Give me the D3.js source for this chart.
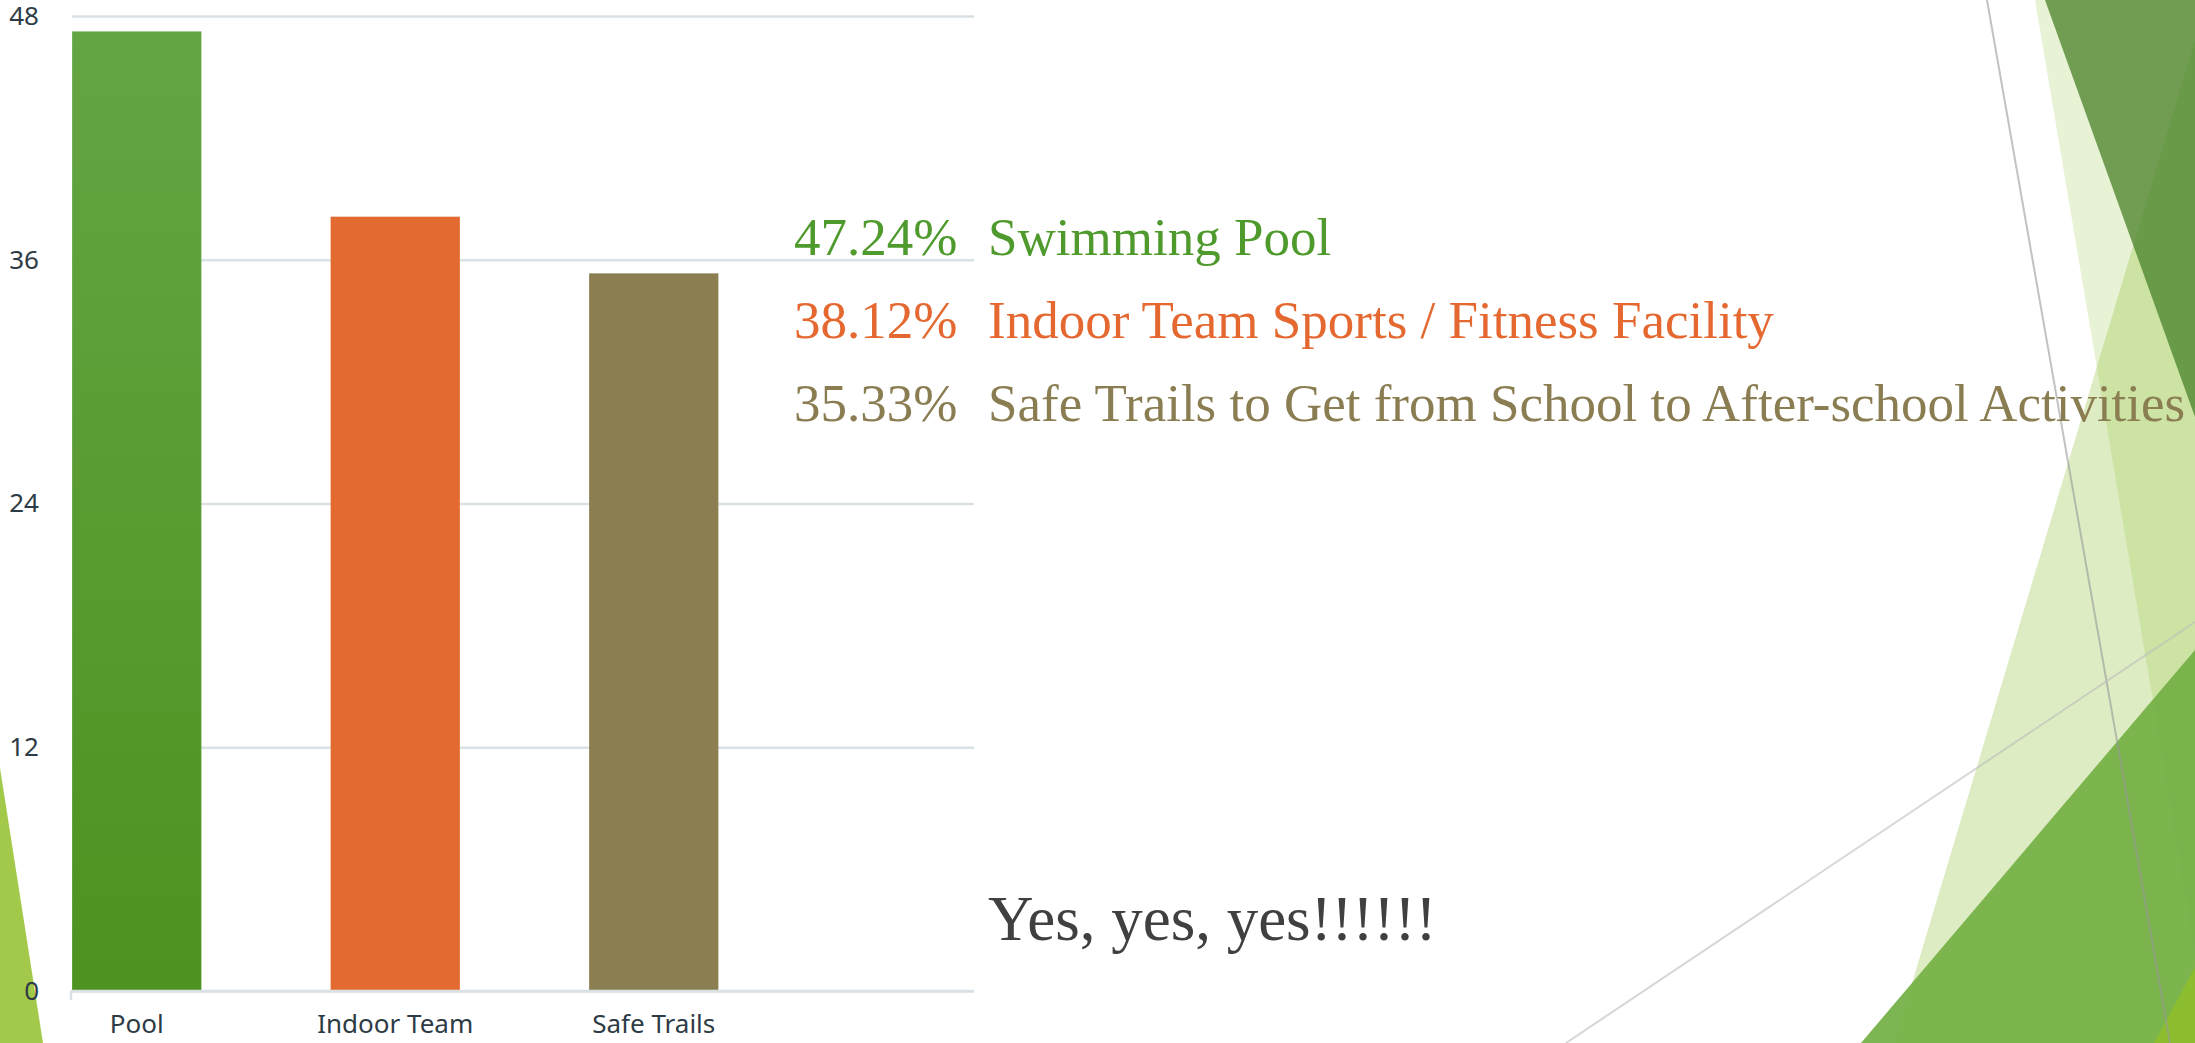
<!DOCTYPE html>
<html>
<head>
<meta charset="utf-8">
<script src="https://cdn.jsdelivr.net/npm/d3@7"></script>
<style>
  html, body { margin: 0; padding: 0; background: #ffffff; overflow: hidden; }
  svg { display: block; }
  .tick text { font-family: "Noto Sans", sans-serif; font-size: 26px; fill: #2d3b45; }
</style>
</head>
<body>
<div id="chart"></div>
<script>
// chart data
var categories = ["Pool", "Indoor Team", "Safe Trails"];
var values = [47.24, 38.12, 35.33];
var fullNames = ["Swimming Pool", "Indoor Team Sports / Fitness Facility", "Safe Trails to Get from School to After-school Activities"];
var barColors = ["url(#poolGrad)", "#e36b32", "#8b7f51"];
var textColors = ["#4f9a2c", "#e4682f", "#8a7d52"];
var yTicks = [0, 12, 24, 36, 48];
var closingLine = "Yes, yes, yes!!!!!!";

var width = 2195, height = 1043;
var plotLeft = 72, plotRight = 974, plotTop = 16, plotBottom = 991;

var svg = d3.select("#chart").append("svg")
    .attr("width", width)
    .attr("height", height);

var defs = svg.append("defs");
var grad = defs.append("linearGradient")
    .attr("id", "poolGrad")
    .attr("x1", 0).attr("y1", 0).attr("x2", 0).attr("y2", 1);
grad.append("stop").attr("offset", "0%").attr("stop-color", "#64a543");
grad.append("stop").attr("offset", "100%").attr("stop-color", "#4e9220");

// slide background decoration (theme facets)
var deco = svg.append("g").attr("class", "deco");
var line = d3.line();
deco.append("path").attr("d", line([[0, 768], [43, 1043], [0, 1043]]) + "Z").attr("fill", "#a2c94a");
deco.append("path").attr("d", line([[2035, 0], [2195, 0], [2195, 950]]) + "Z")
    .attr("fill", "#8bbd2e").attr("fill-opacity", 0.2);
deco.append("path").attr("d", line([[1894, 1043], [2195, 40], [2195, 1043]]) + "Z")
    .attr("fill", "#8bbd2e").attr("fill-opacity", 0.29);
deco.append("path").attr("d", line([[2045, 0], [2195, 0], [2195, 417]]) + "Z")
    .attr("fill", "#4c832b").attr("fill-opacity", 0.77);
deco.append("path").attr("d", line([[1861, 1043], [2195, 650], [2195, 1043]]) + "Z")
    .attr("fill", "#73af44").attr("fill-opacity", 0.92);
deco.append("path").attr("d", line([[2154, 1043], [2195, 967], [2195, 1043]]) + "Z")
    .attr("fill", "#8bbd2e");
deco.append("path").attr("d", line([[1987, 0], [2170, 1043]]))
    .attr("stroke", "#9a9a9a").attr("stroke-opacity", 0.6).attr("stroke-width", 2).attr("fill", "none");
deco.append("path").attr("d", line([[1566, 1043], [2195, 622]]))
    .attr("stroke", "#bdbdbd").attr("stroke-opacity", 0.6).attr("stroke-width", 2).attr("fill", "none");

// scales
var x = d3.scaleBand()
    .domain(categories)
    .range([7.5, 783])
    .paddingInner(0.5)
    .paddingOuter(0.25);

var y = d3.scaleLinear()
    .domain([0, 48])
    .range([plotBottom, plotTop]);

// y axis with gridlines
var yAxis = d3.axisLeft(y)
    .tickValues(yTicks)
    .tickSize(-(plotRight - plotLeft))
    .tickPadding(33)
    .tickFormat(d3.format("d"));

var yG = svg.append("g")
    .attr("class", "axis y-axis")
    .attr("transform", "translate(" + plotLeft + ",0)")
    .call(yAxis);
yG.select(".domain").remove();
yG.selectAll(".tick line")
    .attr("stroke", "#d9e1e5")
    .attr("stroke-width", 2.5);

// bars
svg.append("g").attr("class", "bars")
    .selectAll("rect")
    .data(values)
    .enter().append("rect")
    .attr("x", function (d, i) { return x(categories[i]); })
    .attr("y", function (d) { return y(d); })
    .attr("width", x.bandwidth())
    .attr("height", function (d) { return y(0) - y(d); })
    .attr("fill", function (d, i) { return barColors[i]; });

// x axis
var xAxis = d3.axisBottom(x).tickSize(0).tickPadding(24);
var xG = svg.append("g")
    .attr("class", "axis x-axis")
    .attr("transform", "translate(0," + plotBottom + ")")
    .call(xAxis);
xG.select(".domain").remove();
xG.append("line")
    .attr("x1", plotLeft - 1).attr("x2", plotRight)
    .attr("y1", 0).attr("y2", 0)
    .attr("stroke", "#d9e1e5").attr("stroke-width", 2.5);
xG.append("line")
    .attr("x1", plotLeft - 1).attr("x2", plotLeft - 1)
    .attr("y1", 0).attr("y2", 9)
    .attr("stroke", "#d9e1e5").attr("stroke-width", 2.5);

// percentage list on the right
var fmt = d3.format(".2f");
var list = svg.append("g").attr("class", "list")
    .selectAll("g")
    .data(values)
    .enter().append("g")
    .attr("transform", function (d, i) { return "translate(0," + (255 + i * 83) + ")"; })
    .attr("fill", function (d, i) { return textColors[i]; })
    .style("font-family", "'Liberation Serif', 'Times New Roman', serif")
    .style("font-size", "53px");
list.append("text")
    .attr("x", 794)
    .text(function (d) { return fmt(d) + "%"; });
list.append("text")
    .attr("x", 988)
    .text(function (d, i) { return fullNames[i]; });

svg.append("text")
    .attr("x", 988)
    .attr("y", 940)
    .attr("fill", "#404040")
    .style("font-family", "'Liberation Serif', 'Times New Roman', serif")
    .style("font-size", "63px")
    .text(closingLine);
</script>
</body>
</html>
